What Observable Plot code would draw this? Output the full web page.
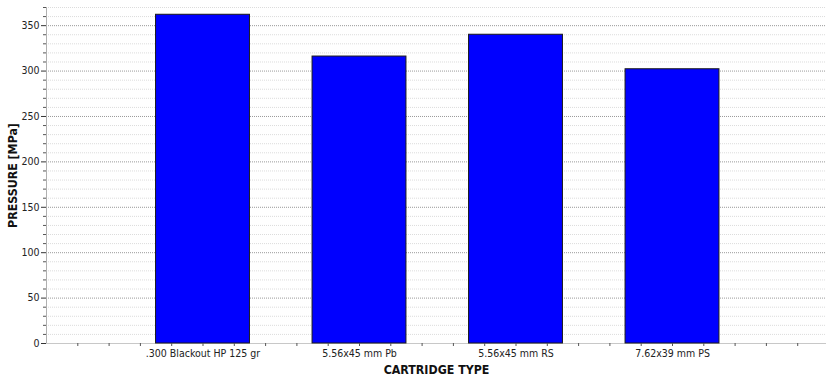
<!DOCTYPE html>
<html>
<head>
<meta charset="utf-8">
<script src="https://cdn.jsdelivr.net/npm/d3@7"></script>
<script src="https://cdn.jsdelivr.net/npm/@observablehq/plot@0.6"></script>
<style>
  html, body { margin: 0; padding: 0; background: #fff; }
  #chart svg { font-family: "DejaVu Sans Condensed", "Noto Sans", sans-serif; }
  #chart g[aria-label="y-axis label"] text,
  #chart g[aria-label="x-axis label"] text { font-weight: bold; font-size: 12.3px; fill: #111; }
</style>
</head>
<body>
<div id="chart"></div>
<script>
// Cartridge types and measured peak pressures (MPa)
const cartridges = [".300 Blackout HP 125 gr", "5.56x45 mm Pb", "5.56x45 mm RS", "7.62x39 mm PS"];
const pressures = [362, 316, 340, 302];

// Axis ticks
const yMajorTicks = [0, 50, 100, 150, 200, 250, 300, 350];
const yMinorStep = 10;
const xMinorStep = 0.2;

const rows = cartridges.map((name, i) => ({name, pos: i + 1, value: pressures[i]}));
const barHalf = 0.3;

const yMinor = d3.range(yMinorStep, 370 + 1e-9, yMinorStep).filter(v => v % 50 !== 0);
const yMajorGrid = yMajorTicks.filter(v => v > 0);
const xMinor = d3.range(xMinorStep, 5, xMinorStep).map(v => +v.toFixed(2));

const chart = Plot.plot({
  width: 826,
  height: 377,
  marginLeft: 46,
  marginRight: 0,
  marginTop: 7,
  marginBottom: 34,
  style: {fontSize: "10.5px", color: "#222"},
  x: {type: "linear", domain: [0, 4.984]},
  y: {domain: [0, 370]},
  marks: [
    // dotted gridlines
    Plot.ruleY(yMinor, {stroke: "#dcdcdc", strokeDasharray: "1,1", strokeWidth: 1}),
    Plot.ruleY(yMajorGrid, {stroke: "#9a9a9a", strokeDasharray: "1,1", strokeWidth: 1}),
    // frame lines
    Plot.ruleX([0], {stroke: "#b0b0b0"}),
    Plot.ruleY([0], {stroke: "#c8c8c8"}),
    // bars
    Plot.rectY(rows, {
      x1: d => d.pos - barHalf,
      x2: d => d.pos + barHalf,
      y: "value",
      fill: "#0000ff",
      stroke: "#1a1a1a",
      strokeWidth: 1
    }),
    // y axis: minor + major ticks
    Plot.axisY(yMinor, {tickSize: 3, tickFormat: () => "", label: null, stroke: "#555"}),
    Plot.axisY(yMajorTicks, {
      tickSize: 5, tickPadding: 2, stroke: "#333",
      label: "PRESSURE [MPa]", labelAnchor: "center", labelArrow: "none", labelOffset: 38
    }),
    // x axis: minor ticks + category labels
    Plot.axisX(xMinor, {tickSize: 3, tickFormat: () => "", label: null, stroke: "#555"}),
    Plot.axisX(rows.map(d => d.pos), {
      tickSize: 0, tickPadding: 6,
      tickFormat: p => cartridges[p - 1],
      label: "CARTRIDGE TYPE", labelAnchor: "center", labelArrow: "none", labelOffset: 30
    })
  ]
});

document.getElementById("chart").appendChild(chart);
</script>
</body>
</html>
